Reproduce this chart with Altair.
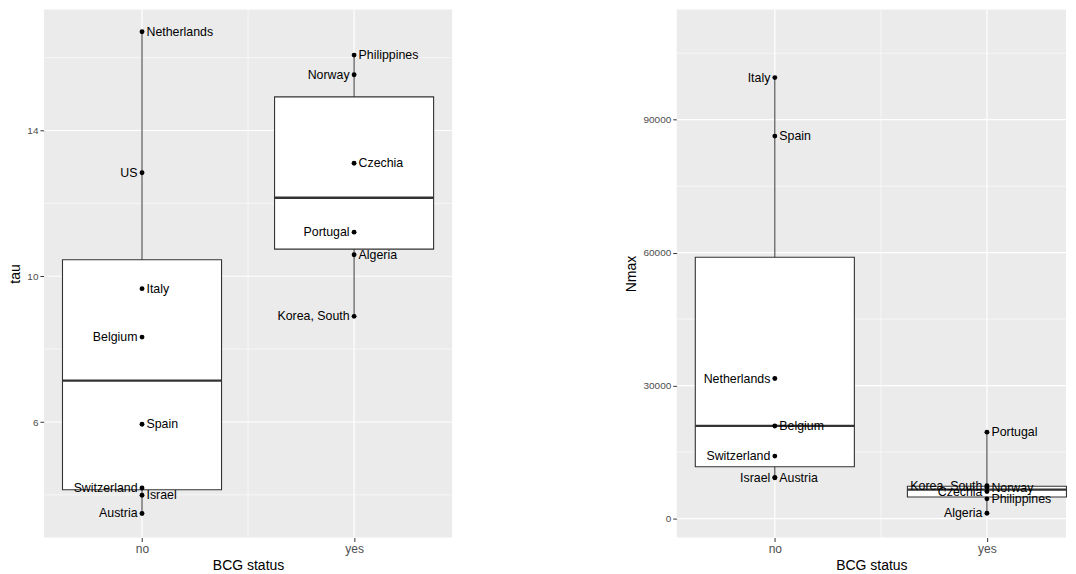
import altair as alt
import pandas as pd

# ---------------- data ----------------
bcg_levels = ["no", "yes"]

tau_country = ["Netherlands", "US", "Italy", "Belgium", "Spain", "Switzerland", "Israel", "Austria",
               "Philippines", "Norway", "Czechia", "Portugal", "Algeria", "Korea, South"]
tau_bcg = ["no", "no", "no", "no", "no", "no", "no", "no",
           "yes", "yes", "yes", "yes", "yes", "yes"]
tau_value = [16.71, 12.84, 9.66, 8.33, 5.94, 4.19, 3.99, 3.49,
             16.07, 15.53, 13.10, 11.21, 10.59, 8.90]
tau_side = ["right", "left", "right", "left", "right", "left", "right", "left",
            "right", "left", "right", "left", "right", "left"]

nmax_country = ["Italy", "Spain", "Netherlands", "Belgium", "Switzerland", "Israel", "Austria",
                "Portugal", "Korea, South", "Norway", "Czechia", "Philippines", "Algeria"]
nmax_bcg = ["no", "no", "no", "no", "no", "no", "no",
            "yes", "yes", "yes", "yes", "yes", "yes"]
nmax_value = [99500, 86300, 31600, 20900, 14100, 9200, 9250,
              19500, 7400, 7000, 6100, 4450, 1200]
nmax_side = ["left", "right", "left", "right", "left", "left", "right",
             "right", "left", "right", "left", "right", "left"]

tau_major = [6, 10, 14]
tau_minor = [4, 8, 12, 16]
nmax_major = [0, 30000, 60000, 90000]
nmax_minor = [15000, 45000, 75000, 105000]
x_major = [1, 2]
x_minor = [1.5]

FONT = "Liberation Sans"
BOX_HALF = 0.375
label_expr = "[" + ",".join("'%s'" % l for l in bcg_levels) + "][datum.value - 1]"


def panel(country, bcg, value, side, ytitle, ydom, ymajor, yminor, xdom, width, title_x, fmt):
    df = pd.DataFrame({"country": country, "bcg": bcg, "val": value, "side": side})
    df["g"] = [bcg_levels.index(b) + 1 for b in bcg]

    xs = alt.Scale(domain=xdom, nice=False, zero=False)
    ys = alt.Scale(domain=ydom, nice=False, zero=False)
    xaxis = alt.Axis(values=x_major, labelExpr=label_expr, title="BCG status",
                     titleY=28, titleBaseline="middle", labelPadding=2, labelFontSize=12)
    yaxis = alt.Axis(values=ymajor, title=ytitle, titleX=title_x, titleBaseline="middle",
                     format=fmt, labelPadding=2, labelFontSize=10)

    def X(f):
        return alt.X(f, type="quantitative", scale=xs, axis=xaxis)

    def Y(f):
        return alt.Y(f, type="quantitative", scale=ys, axis=yaxis)

    base = alt.Chart(df)

    hminor = alt.Chart(pd.DataFrame({"v": yminor})).mark_rule(color="white", strokeWidth=0.6).encode(y=Y("v"))
    hmajor = alt.Chart(pd.DataFrame({"v": ymajor})).mark_rule(color="white", strokeWidth=1.2).encode(y=Y("v"))
    vminor = alt.Chart(pd.DataFrame({"v": x_minor})).mark_rule(color="white", strokeWidth=0.6).encode(x=X("v"))
    vmajor = alt.Chart(pd.DataFrame({"v": x_major})).mark_rule(color="white", strokeWidth=1.2).encode(x=X("v"))

    whisker = base.transform_aggregate(
        lo="min(val)", hi="max(val)", groupby=["g"]
    ).mark_rule(color="#333333", strokeWidth=1).encode(
        x=X("g"), y=Y("lo"), y2=alt.Y2("hi")
    )

    stats = base.transform_aggregate(
        q1="q1(val)", q3="q3(val)", med="median(val)", groupby=["g"]
    ).transform_calculate(
        xl="datum.g - %f" % BOX_HALF, xr="datum.g + %f" % BOX_HALF
    )
    box = stats.mark_rect(fill="white", stroke="#333333", strokeWidth=1.1).encode(
        x=X("xl"), x2=alt.X2("xr"), y=Y("q1"), y2=alt.Y2("q3")
    )
    median = stats.mark_rule(color="#333333", strokeWidth=2.3).encode(
        x=X("xl"), x2=alt.X2("xr"), y=Y("med")
    )

    points = base.mark_circle(size=24, color="black", opacity=1).encode(x=X("g"), y=Y("val"))

    text_l = base.transform_filter("datum.side == 'left'").mark_text(
        align="right", baseline="middle", dx=-4.5, fontSize=12.4, font=FONT, color="black"
    ).encode(x=X("g"), y=Y("val"), text="country:N")
    text_r = base.transform_filter("datum.side == 'right'").mark_text(
        align="left", baseline="middle", dx=4.5, fontSize=12.4, font=FONT, color="black"
    ).encode(x=X("g"), y=Y("val"), text="country:N")

    return alt.layer(hminor, hmajor, vminor, vmajor, whisker, box, median, points, text_l, text_r).properties(
        width=width, height=529
    )


left = panel(tau_country, tau_bcg, tau_value, tau_side, "tau",
             [2.83, 17.32], tau_major, tau_minor, [0.5375, 2.4625], 409, -28.5, "d")
right = panel(nmax_country, nmax_bcg, nmax_value, nmax_side, "Nmax",
              [-4279, 114852], nmax_major, nmax_minor, [0.5375, 2.3728], 390, -45.5, "d")

chart = alt.hconcat(left, right, spacing=225, bounds="flush", padding=0).configure_view(
    fill="#EBEBEB", strokeWidth=0
).configure_axis(
    domain=False, grid=False, tickColor="#333333", tickSize=4, tickWidth=1,
    labelColor="#4D4D4D", labelFont=FONT,
    titleFont=FONT, titleFontSize=14, titleFontWeight="normal", titleColor="black"
)

chart.save("out.html", embed_options={"renderer": "svg", "actions": False})
